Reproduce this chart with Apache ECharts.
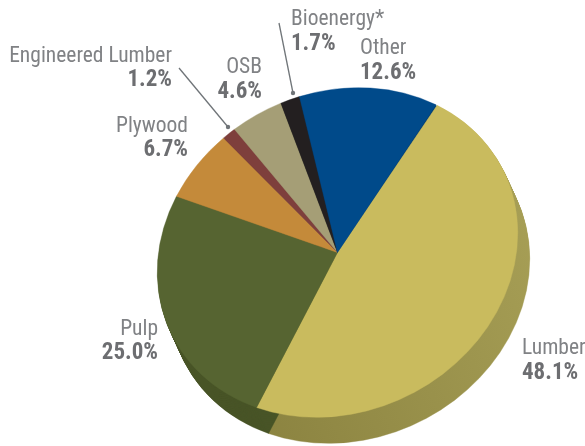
<!DOCTYPE html>
<html><head><meta charset="utf-8">
<style>html,body{margin:0;padding:0;background:#fff}#c{width:585px;height:446px}</style>
<script src="https://cdn.jsdelivr.net/npm/echarts@6/dist/echarts.min.js"></script>
</head><body><div id="c"></div>
<script>
const categories=['Lumber','Pulp','Plywood','Engineered Lumber','OSB','Bioenergy*','Other'];
const shares=[48.1,25.0,6.7,1.2,4.6,1.7,12.6];
const shareLabels=['48.1%','25.0%','6.7%','1.2%','4.6%','1.7%','12.6%'];
const topColors=['#c9bb5e','#566431','#c48a3a','#7e3f3c','#a59e76','#231f20','#004a8a'];
const sideColors=[null,'#485427','#9a6c2d','#5f2f2d','#7f7a5a','#181516','#003a6c'];
const lumberSide=['#8c8441','#a69e55'];
// layout of the labels: anchor x, name centre y, value centre y, align
const labelLayout=[[522,349,373,'left'],[158,330,353,'right'],[188,127,150,'right'],[172,57,80,'right'],[262,68,92,'right'],[291,20,44,'left'],[360,49,73,'left']];
const leaders=[[179,68,228,127],[279,23,293,93]];
// layout of the tilted disc
const cx=337.5,cy=252.5,rx=185,ry=159.5,tilt=26.4*Math.PI/180,startDeg=-33.3,depthX=12,depthY=26;

let acc=0;
const rows=shares.map(v=>{const r=[acc,v];acc+=v;return r;});
const chart=echarts.init(document.getElementById('c'));
const font='"Liberation Sans Narrow","Roboto Condensed","Liberation Sans",sans-serif';
function sector(api,color){
  const a=(startDeg+api.value(0)*3.6)*Math.PI/180, b=(startDeg+(api.value(0)+api.value(1))*3.6)*Math.PI/180;
  return {type:'sector',shape:{cx:0,cy:0,r0:0,r:rx,startAngle:a,endAngle:b,clockwise:true},
    style:{fill:color,stroke:color,lineWidth:0.4}};
}
function disc(api,color,dx,dy){
  return {type:'group',x:cx+dx,y:cy+dy,rotation:tilt,scaleX:1,scaleY:ry/rx,children:[sector(api,color)]};
}
const gr=[];
categories.forEach((n,i)=>{const p=labelLayout[i];
  gr.push({type:'text',z:10,style:{x:p[0],y:p[1],text:n,align:p[3],verticalAlign:'middle',fontSize:21.5,fontFamily:font,fill:'#808285'}});
  gr.push({type:'text',z:10,style:{x:p[0],y:p[2],text:shareLabels[i],align:p[3],verticalAlign:'middle',fontSize:23,fontWeight:'bold',fontFamily:font,fill:'#6d6e71'}});
});
leaders.forEach(l=>{
  gr.push({type:'line',z:10,shape:{x1:l[0],y1:l[1],x2:l[2],y2:l[3]},style:{stroke:'#6f7478',lineWidth:1.3}});
  gr.push({type:'circle',z:10,shape:{cx:l[2],cy:l[3],r:2.2},style:{fill:'#6f7478'}});
});
const lumberFill=new echarts.graphic.LinearGradient(0,0,1,0,[{offset:0,color:lumberSide[0]},{offset:1,color:lumberSide[1]}]);
chart.setOption({animation:false,backgroundColor:'#fff',graphic:gr,
 series:[
  {type:'custom',coordinateSystem:'none',silent:true,z:1,data:rows,
   renderItem(params,api){
     const kids=[];
     const c=params.dataIndex===0?lumberFill:sideColors[params.dataIndex];
     for(let k=depthY;k>=1;k--) kids.push(disc(api,c,depthX*k/depthY,k));
     return {type:'group',children:kids};
   }},
  {type:'custom',coordinateSystem:'none',silent:true,z:2,data:rows,
   renderItem(params,api){return disc(api,topColors[params.dataIndex],0,0);}}
 ]});
</script></body></html>
